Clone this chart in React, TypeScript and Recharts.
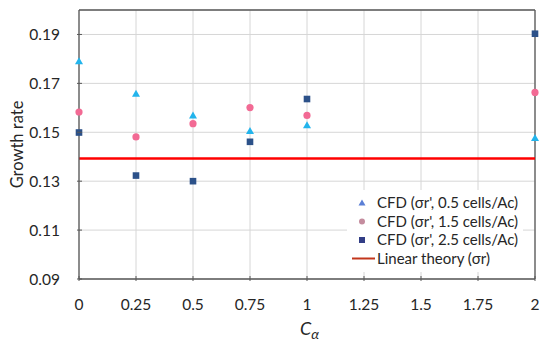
import React from 'react';
import {
  ComposedChart,
  Scatter,
  XAxis,
  YAxis,
  CartesianGrid,
  ReferenceLine,
} from 'recharts';

// C_alpha values where CFD runs were done
const alphaValues = [0, 0.25, 0.5, 0.75, 1, 2];
// growth rate sigma_r' for each mesh resolution
const cells05 = [0.179, 0.1658, 0.1569, 0.1505, 0.1529, 0.1477];
const cells15 = [0.1583, 0.1481, 0.1535, 0.1601, 0.1569, 0.1663];
const cells25 = [0.1499, 0.1323, 0.13, 0.1461, 0.1636, 0.1903];
const linearTheory = 0.1393;

const xTicks = [0, 0.25, 0.5, 0.75, 1, 1.25, 1.5, 1.75, 2];
const yTicks = [0.09, 0.11, 0.13, 0.15, 0.17, 0.19];

const legendLabels = [
  "CFD (σr', 0.5 cells/Ac)",
  "CFD (σr', 1.5 cells/Ac)",
  "CFD (σr', 2.5 cells/Ac)",
  'Linear theory (σr)',
];

const FONT = 'Lato, "Open Sans", sans-serif';
const TEXT = '#262626';
const AXIS = '#595959';
const C_TRI = '#22b4ec';
const C_CIRC = '#f26a94';
const C_SQ = '#2c5189';
const C_LINE = '#ff0000';

const toPoints = (ys: number[]) => alphaValues.map((x, i) => ({ x, y: ys[i] }));

const Triangle = (p: any) => (
  <polygon
    points={`${p.cx},${p.cy - 4} ${p.cx + 4},${p.cy + 3} ${p.cx - 4},${p.cy + 3}`}
    fill={C_TRI}
  />
);
const Dot = (p: any) => <circle cx={p.cx} cy={p.cy} r={3.6} fill={C_CIRC} />;
const Square = (p: any) => (
  <rect x={p.cx - 3.3} y={p.cy - 3.3} width={6.6} height={6.6} fill={C_SQ} />
);

const YTick = ({ x, y, payload }: any) => (
  <g>
    <line x1={x} x2={x + 5} y1={y} y2={y} stroke={AXIS} />
    <text x={x - 17} y={y} dy="0.36em" textAnchor="end" fontSize={15.5} fill={TEXT} fontFamily={FONT}>
      {Number(payload.value).toFixed(2)}
    </text>
  </g>
);

const XTick = ({ x, y, payload }: any) => (
  <g>
    <line x1={x} x2={x} y1={y - 5} y2={y} stroke={AXIS} />
    <text x={x} y={y + 29} textAnchor="middle" fontSize={15.5} fill={TEXT} fontFamily={FONT}>
      {String(payload.value)}
    </text>
  </g>
);

const XTitle = ({ viewBox }: any) => {
  const cx = viewBox.x + viewBox.width / 2;
  return (
    <text x={cx - 7} y={viewBox.y + 56} fontSize={18} fill={TEXT} fontFamily={FONT} fontStyle="italic">
      C<tspan fontSize={14} dy={4}>α</tspan>
    </text>
  );
};

const YTitle = ({ viewBox }: any) => {
  const cy = viewBox.y + viewBox.height / 2;
  return (
    <text
      x={17}
      y={cy}
      transform={`rotate(-90 17 ${cy})`}
      textAnchor="middle"
      dy="0.35em"
      fontSize={16.5}
      fill={TEXT}
      fontFamily={FONT}
    >
      Growth rate
    </text>
  );
};

const LegendBox = () => {
  const rows = [203, 221.5, 240, 258.5];
  return (
    <svg
      width={550}
      height={348}
      style={{ position: 'absolute', left: 0, top: 0, pointerEvents: 'none' }}
    >
      <rect x={347} y={190} width={176} height={82} fill="#fff" />
      <polygon points={`362,${rows[0] - 3.5} 365.5,${rows[0] + 2.5} 358.5,${rows[0] + 2.5}`} fill="#5b7fd6" />
      <circle cx={362} cy={rows[1]} r={3} fill="#c48c9e" />
      <rect x={359} y={rows[2] - 3} width={6} height={6} fill="#323e86" />
      <line x1={352} x2={375} y1={rows[3]} y2={rows[3]} stroke="#c2361c" strokeWidth={2} />
      {legendLabels.map((t, i) => (
        <text key={t} x={377} y={rows[i]} dy="0.36em" fontSize={15} fill={TEXT} fontFamily={FONT}>
          {t}
        </text>
      ))}
    </svg>
  );
};

export default function App() {
  return (
    <div style={{ position: 'absolute', left: 0, top: 0, width: 550, height: 348, background: '#fff' }}>
      <ComposedChart width={550} height={348} margin={{ top: 10, right: 15, left: 0, bottom: 0 }}>
        <CartesianGrid stroke="#d6d6d6" strokeWidth={1} />
        <XAxis
          type="number"
          dataKey="x"
          domain={[0, 2]}
          ticks={xTicks}
          height={69}
          tickSize={0}
          tickLine={false}
          tick={<XTick />}
          axisLine={{ stroke: AXIS, strokeWidth: 1.3 }}
          label={<XTitle />}
          allowDuplicatedCategory={false}
        />
        <YAxis
          type="number"
          dataKey="y"
          domain={[0.09, 0.2]}
          ticks={yTicks}
          width={79}
          tickSize={0}
          tickLine={false}
          tick={<YTick />}
          axisLine={{ stroke: AXIS, strokeWidth: 1.3 }}
          label={<YTitle />}
        />
        <ReferenceLine y={0.2} stroke={AXIS} strokeWidth={1.3} />
        <ReferenceLine x={2} stroke={AXIS} strokeWidth={1.3} />
        <ReferenceLine y={linearTheory} stroke={C_LINE} strokeWidth={2.5} />
        <Scatter data={toPoints(cells05)} shape={Triangle} isAnimationActive={false} />
        <Scatter data={toPoints(cells15)} shape={Dot} isAnimationActive={false} />
        <Scatter data={toPoints(cells25)} shape={Square} isAnimationActive={false} />
      </ComposedChart>
      <LegendBox />
    </div>
  );
}
